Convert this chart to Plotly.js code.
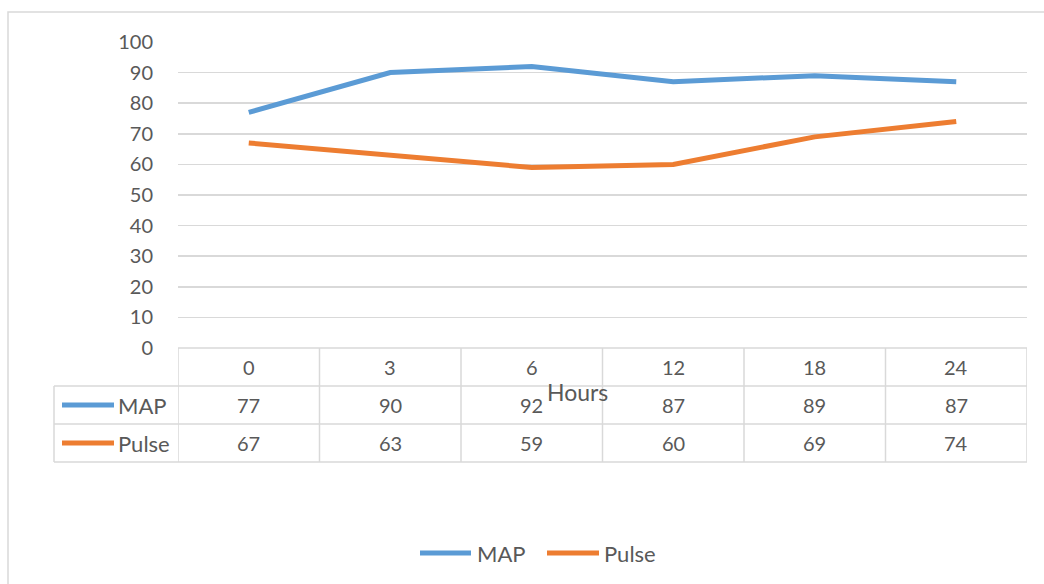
<!DOCTYPE html>
<html>
<head>
<meta charset="utf-8">
<script src="https://cdn.plot.ly/plotly-3.0.1.min.js"></script>
<style>html,body{margin:0;padding:0;background:#fff}#chart{width:1044px;height:584px}</style>
</head>
<body>
<div id="chart"></div>
<script>
var hours = ["0", "3", "6", "12", "18", "24"];
var mapValues = [77, 90, 92, 87, 89, 87];
var pulseValues = [67, 63, 59, 60, 69, 74];
var seriesNames = ["MAP", "Pulse"];
var seriesColors = ["#5B9BD5", "#ED7D31"];
var xTitle = "Hours";
var yTicks = [0, 10, 20, 30, 40, 50, 60, 70, 80, 90, 100];

var W = 1044, H = 584;
var L = 178, R = 1027, T = 42, B = 348;
function px(x) { return (x - L) / (R - L); }
function py(y) { return (B - y) / (B - T); }

var font = "Lato, 'Open Sans', sans-serif";
var txt = "#595959";
var grid = "#d9d9d9";

var traces = [
  {x: hours, y: mapValues, name: seriesNames[0], type: "scatter", mode: "lines",
   line: {color: seriesColors[0], width: 5}},
  {x: hours, y: pulseValues, name: seriesNames[1], type: "scatter", mode: "lines",
   line: {color: seriesColors[1], width: 5}}
];

var shapes = [];
var annotations = [];
// outer chart border
shapes.push({type: "rect", xref: "paper", yref: "paper", x0: px(8), x1: px(1100), y0: py(640), y1: py(12),
  line: {color: grid, width: 1.5}, fillcolor: "rgba(0,0,0,0)"});

// table rows
var rowY = [348, 386, 424, 462];
shapes.push({type: "line", xref: "paper", yref: "paper", x0: 0, x1: 1, y0: py(rowY[0]), y1: py(rowY[0]), line: {color: grid, width: 1.5}});
for (var r = 1; r < rowY.length; r++) {
  shapes.push({type: "line", xref: "paper", yref: "paper", x0: px(54), x1: 1, y0: py(rowY[r]), y1: py(rowY[r]), line: {color: grid, width: 1.5}});
}
for (var c = 0; c <= hours.length; c++) {
  var xv = c - 0.5;
  shapes.push({type: "line", xref: "x", yref: "paper", x0: xv, x1: xv, y0: py(rowY[0]), y1: py(rowY[3]), line: {color: grid, width: 1.5}});
}
shapes.push({type: "line", xref: "paper", yref: "paper", x0: px(54), x1: px(54), y0: py(rowY[1]), y1: py(rowY[3]), line: {color: grid, width: 1.5}});

var rowCenters = [367, 405, 443];
var rows = [hours, mapValues, pulseValues];
for (var r2 = 0; r2 < rows.length; r2++) {
  for (var i = 0; i < hours.length; i++) {
    annotations.push({xref: "x", yref: "paper", x: i, y: py(rowCenters[r2]), text: String(rows[r2][i]),
      showarrow: false, xanchor: "center", yanchor: "middle", font: {family: font, size: 20, color: txt}});
  }
}
for (var s = 0; s < 2; s++) {
  var yc = rowCenters[s + 1];
  shapes.push({type: "line", xref: "paper", yref: "paper", x0: px(62), x1: px(114), y0: py(yc), y1: py(yc),
    line: {color: seriesColors[s], width: 5}});
  annotations.push({xref: "paper", yref: "paper", x: px(116), y: py(yc), text: seriesNames[s], showarrow: false,
    xanchor: "left", yanchor: "middle", font: {family: font, size: 22, color: txt}});
}
annotations.push({xref: "paper", yref: "paper", x: px(577), y: py(392), text: xTitle, showarrow: false,
  xanchor: "center", yanchor: "middle", font: {family: font, size: 23, color: txt}});

var legX = [[420, 471, 475], [547, 599, 602]];
for (var s2 = 0; s2 < 2; s2++) {
  shapes.push({type: "line", xref: "paper", yref: "paper", x0: px(legX[s2][0]), x1: px(legX[s2][1]), y0: py(553), y1: py(553),
    line: {color: seriesColors[s2], width: 5}});
  annotations.push({xref: "paper", yref: "paper", x: px(legX[s2][2]), y: py(553), text: seriesNames[s2], showarrow: false,
    xanchor: "left", yanchor: "middle", font: {family: font, size: 22, color: txt}});
}

var layout = {
  width: W, height: H,
  margin: {l: L, r: W - R, t: T, b: H - B, pad: 0},
  paper_bgcolor: "#fff", plot_bgcolor: "#fff",
  showlegend: false,
  xaxis: {type: "category", range: [-0.5, 5.5], showticklabels: false, showgrid: false, zeroline: false,
    showline: false, ticks: "", fixedrange: true},
  yaxis: {range: [0, 100], tickvals: yTicks, ticktext: yTicks.map(String), showgrid: true, gridcolor: grid, gridwidth: 1.5,
    zeroline: false, showline: false, ticks: "outside", ticklen: 20, tickcolor: "rgba(0,0,0,0)",
    tickfont: {family: font, size: 20, color: txt}, fixedrange: true},
  shapes: shapes,
  annotations: annotations
};

Plotly.newPlot("chart", traces, layout, {displayModeBar: false, staticPlot: true});
</script>
</body>
</html>
